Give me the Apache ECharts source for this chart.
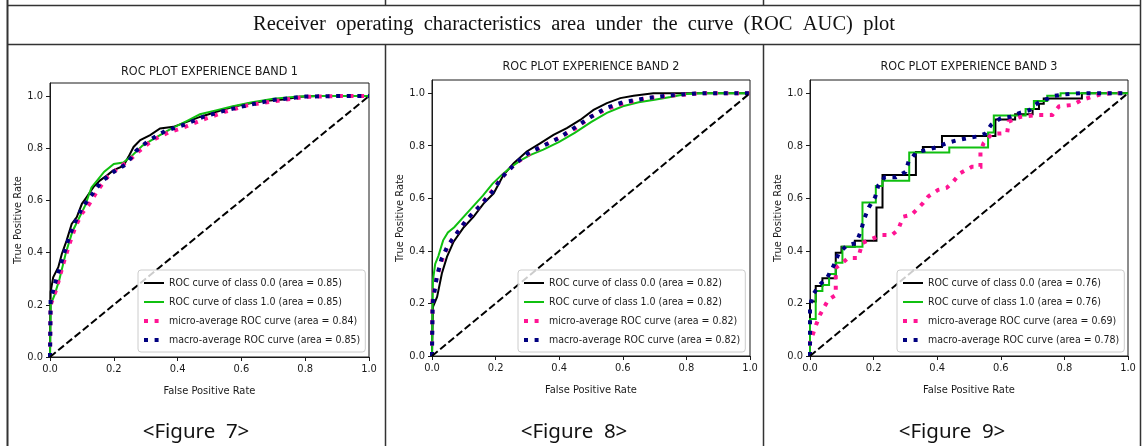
<!DOCTYPE html>
<html>
<head>
<meta charset="utf-8">
<script src="https://cdn.jsdelivr.net/npm/echarts@6/dist/echarts.min.js"></script>
<style>
html,body{margin:0;padding:0;background:#fff;}
#c{width:1142px;height:446px;}
</style>
</head>
<body>
<div id="c"></div>
<script>
// ---------------- DATA ----------------
const tableTitle = 'Receiver  operating  characteristics  area  under  the  curve  (ROC  AUC)  plot';
const panelTitles = ['ROC PLOT EXPERIENCE BAND 1', 'ROC PLOT EXPERIENCE BAND 2', 'ROC PLOT EXPERIENCE BAND 3'];
const captions = ['<Figure  7>', '<Figure  8>', '<Figure  9>'];
const xTicks = [0, 0.2, 0.4, 0.6, 0.8, 1.0];
const yTicks = [0, 0.2, 0.4, 0.6, 0.8, 1.0];
const xName = 'False Positive Rate';
const yName = 'True Positive Rate';

// areas: [class 0.0, class 1.0, micro, macro]
const areasBand1 = [0.85, 0.85, 0.84, 0.85];
const areasBand2 = [0.82, 0.82, 0.82, 0.82];
const areasBand3 = [0.76, 0.76, 0.69, 0.78];

const chance = [[0, 0], [1, 1]];

// Band 1 (FPR, TPR)
const band1Class0 = [[0,0],[0.002,0.25],[0.01,0.305],[0.026,0.344],[0.037,0.395],[0.052,0.446],[0.068,0.51],[0.084,0.536],[0.1,0.587],[0.115,0.613],[0.136,0.651],[0.157,0.677],[0.178,0.695],[0.198,0.715],[0.23,0.732],[0.246,0.767],[0.262,0.805],[0.283,0.831],[0.314,0.85],[0.345,0.876],[0.387,0.882],[0.429,0.901],[0.47,0.92],[0.522,0.94],[0.574,0.959],[0.627,0.972],[0.679,0.982],[0.731,0.987],[0.784,0.997],[0.836,1.0],[1,1]];
const band1Class1 = [[0,0],[0.002,0.2],[0.015,0.24],[0.03,0.3],[0.05,0.4],[0.07,0.48],[0.09,0.53],[0.11,0.58],[0.13,0.65],[0.15,0.68],[0.17,0.71],[0.2,0.74],[0.23,0.745],[0.26,0.775],[0.29,0.81],[0.33,0.84],[0.38,0.875],[0.43,0.905],[0.47,0.93],[0.52,0.945],[0.57,0.96],[0.63,0.975],[0.7,0.99],[0.78,0.998],[0.85,1.0],[1,1]];
const band1Micro = [[0,0],[0.002,0.2],[0.02,0.26],[0.04,0.35],[0.06,0.43],[0.08,0.5],[0.1,0.55],[0.12,0.58],[0.15,0.64],[0.18,0.69],[0.21,0.72],[0.25,0.755],[0.28,0.79],[0.32,0.83],[0.37,0.86],[0.42,0.88],[0.48,0.91],[0.55,0.94],[0.62,0.965],[0.7,0.98],[0.8,0.997],[0.9,1],[1,1]];
const band1Macro = [[0,0],[0.002,0.22],[0.02,0.3],[0.04,0.38],[0.06,0.46],[0.08,0.52],[0.1,0.57],[0.13,0.62],[0.16,0.67],[0.2,0.71],[0.24,0.74],[0.27,0.79],[0.31,0.83],[0.36,0.865],[0.42,0.89],[0.48,0.92],[0.55,0.945],[0.62,0.965],[0.7,0.985],[0.8,0.998],[0.9,1],[1,1]];

// Band 2
const band2Class0 = [[0,0],[0.003,0.187],[0.016,0.225],[0.031,0.314],[0.047,0.377],[0.068,0.435],[0.1,0.49],[0.131,0.53],[0.162,0.58],[0.194,0.619],[0.225,0.689],[0.257,0.733],[0.298,0.778],[0.34,0.809],[0.382,0.841],[0.424,0.867],[0.466,0.898],[0.508,0.936],[0.55,0.962],[0.592,0.981],[0.634,0.99],[0.696,1.0],[1,1]];
const band2Class1 = [[0,0],[0.003,0.288],[0.01,0.35],[0.02,0.38],[0.035,0.44],[0.05,0.47],[0.07,0.49],[0.1,0.53],[0.13,0.57],[0.16,0.61],[0.19,0.655],[0.22,0.69],[0.25,0.72],[0.28,0.745],[0.31,0.765],[0.35,0.785],[0.4,0.815],[0.45,0.85],[0.5,0.89],[0.55,0.925],[0.6,0.95],[0.65,0.965],[0.7,0.975],[0.75,0.985],[0.8,0.997],[0.85,1.0],[1,1]];
const band2Micro = [[0,0],[0,0.07],[0.002,0.22],[0.015,0.3],[0.03,0.36],[0.05,0.42],[0.08,0.47],[0.11,0.52],[0.15,0.57],[0.19,0.63],[0.22,0.68],[0.26,0.73],[0.3,0.765],[0.35,0.8],[0.4,0.83],[0.45,0.865],[0.5,0.91],[0.55,0.94],[0.6,0.96],[0.67,0.98],[0.75,0.99],[0.85,1],[1,1]];
const band2Macro = [[0,0],[0.002,0.2],[0.015,0.3],[0.03,0.37],[0.05,0.42],[0.08,0.47],[0.11,0.52],[0.15,0.57],[0.19,0.625],[0.22,0.68],[0.26,0.73],[0.3,0.77],[0.35,0.8],[0.4,0.83],[0.45,0.87],[0.5,0.91],[0.55,0.945],[0.6,0.965],[0.67,0.98],[0.75,0.992],[0.85,1],[1,1]];

// Band 3 (step ROC points)
const band3Class0 = [[0,0],[0,0.207],[0.018,0.207],[0.018,0.266],[0.039,0.266],[0.039,0.296],[0.081,0.296],[0.081,0.393],[0.099,0.393],[0.099,0.416],[0.141,0.416],[0.141,0.438],[0.209,0.438],[0.209,0.565],[0.228,0.565],[0.228,0.689],[0.333,0.689],[0.333,0.776],[0.355,0.776],[0.355,0.795],[0.415,0.795],[0.415,0.837],[0.583,0.837],[0.583,0.9],[0.645,0.9],[0.645,0.92],[0.7,0.92],[0.7,0.94],[0.72,0.94],[0.72,0.96],[0.735,0.96],[0.735,0.98],[0.855,0.98],[0.855,1.0],[1,1]];
const band3Class1 = [[0,0],[0,0.141],[0.018,0.141],[0.018,0.247],[0.039,0.247],[0.039,0.27],[0.06,0.27],[0.06,0.312],[0.081,0.312],[0.081,0.355],[0.102,0.355],[0.102,0.416],[0.165,0.416],[0.165,0.584],[0.207,0.584],[0.207,0.647],[0.228,0.647],[0.228,0.667],[0.312,0.667],[0.312,0.774],[0.438,0.774],[0.438,0.793],[0.56,0.793],[0.56,0.85],[0.578,0.85],[0.578,0.915],[0.678,0.915],[0.678,0.94],[0.704,0.94],[0.704,0.97],[0.746,0.97],[0.746,0.99],[0.788,0.99],[0.788,1.0],[1,1]];
const band3Micro = [[0,0],[0,0.05],[0.019,0.118],[0.031,0.156],[0.057,0.213],[0.081,0.232],[0.081,0.335],[0.102,0.354],[0.12,0.373],[0.151,0.373],[0.165,0.43],[0.178,0.437],[0.225,0.46],[0.257,0.46],[0.277,0.48],[0.293,0.53],[0.319,0.537],[0.335,0.556],[0.356,0.582],[0.372,0.607],[0.388,0.62],[0.403,0.632],[0.43,0.64],[0.451,0.664],[0.472,0.695],[0.509,0.72],[0.536,0.72],[0.536,0.778],[0.546,0.81],[0.572,0.845],[0.62,0.848],[0.625,0.892],[0.662,0.91],[0.72,0.917],[0.762,0.917],[0.783,0.95],[0.825,0.955],[0.856,0.975],[0.909,0.994],[0.95,1.0],[1,1]];
const band3Macro = [[0,0],[0,0.19],[0.01,0.235],[0.03,0.27],[0.055,0.3],[0.075,0.345],[0.09,0.39],[0.115,0.42],[0.145,0.43],[0.16,0.475],[0.17,0.52],[0.185,0.565],[0.205,0.605],[0.215,0.65],[0.235,0.68],[0.27,0.68],[0.3,0.7],[0.31,0.74],[0.335,0.775],[0.37,0.785],[0.4,0.795],[0.43,0.81],[0.46,0.82],[0.5,0.83],[0.525,0.835],[0.55,0.845],[0.57,0.88],[0.6,0.905],[0.63,0.91],[0.66,0.925],[0.69,0.935],[0.7,0.95],[0.72,0.965],[0.74,0.975],[0.77,0.99],[0.8,0.995],[0.85,1],[1,1]];

// ---------------- STYLE / LAYOUT ----------------
const SANS = "'Liberation Sans Narrow', 'DejaVu Sans Condensed', 'Liberation Sans', sans-serif";
const INK = '#1a1a1a';
const panels = [
  {grid: {left: 50, top: 83, width: 319, height: 274}, titleY: 71.5, legend: {left: 138, top: 270},
   curves: [band1Class0, band1Class1, band1Micro, band1Macro], areas: areasBand1},
  {grid: {left: 432, top: 80, width: 318, height: 276}, titleY: 67, legend: {left: 518, top: 270},
   curves: [band2Class0, band2Class1, band2Micro, band2Macro], areas: areasBand2},
  {grid: {left: 810, top: 80, width: 318, height: 276}, titleY: 67, legend: {left: 897, top: 270},
   curves: [band3Class0, band3Class1, band3Micro, band3Macro], areas: areasBand3}
];
const curveStyles = [
  {color: '#000000', width: 2, type: 'solid'},
  {color: '#10c010', width: 2, type: 'solid'},
  {color: '#ff1493', width: 4, type: [4, 6.6]},
  {color: '#000080', width: 4, type: [4, 6.6]}
];
function curveName(k, a) {
  const f = a.toFixed(2);
  if (k === 0) return 'ROC curve of class 0.0 (area = ' + f + ')';
  if (k === 1) return 'ROC curve of class 1.0 (area = ' + f + ')';
  if (k === 2) return 'micro-average ROC curve (area = ' + f + ')';
  return 'macro-average ROC curve (area = ' + f + ')';
}

const grids = [], xAxes = [], yAxes = [], series = [], legends = [];
const graphics = [];

panels.forEach((p, i) => {
  grids.push(Object.assign({show: true, borderColor: INK, borderWidth: 1, backgroundColor: 'transparent'}, p.grid));
  xAxes.push({
    type: 'value', gridIndex: i, min: 0, max: 1, interval: 0.2,
    axisLine: {show: true, onZero: false, lineStyle: {color: INK, width: 1}},
    axisTick: {show: true, inside: false, length: 4, lineStyle: {color: INK}, customValues: xTicks},
    axisLabel: {show: true, margin: 7, fontSize: 11, color: INK, fontFamily: SANS, customValues: xTicks,
      formatter: v => v.toFixed(1)},
    splitLine: {show: false},
    name: xName, nameLocation: 'middle', nameGap: 29,
    nameTextStyle: {fontSize: 11, color: INK, fontFamily: SANS}
  });
  yAxes.push({
    type: 'value', gridIndex: i, min: 0, max: 1.05, interval: 0.2,
    axisLine: {show: true, onZero: false, lineStyle: {color: INK, width: 1}},
    axisTick: {show: true, inside: false, length: 4, lineStyle: {color: INK}, customValues: yTicks},
    axisLabel: {show: true, margin: 7, fontSize: 11, color: INK, fontFamily: SANS, customValues: yTicks,
      formatter: v => v.toFixed(1)},
    splitLine: {show: false},
    name: yName, nameLocation: 'middle', nameGap: 25, nameRotate: 90,
    nameTextStyle: {fontSize: 11, color: INK, fontFamily: SANS}
  });
  const names = [];
  p.curves.forEach((d, k) => {
    const nm = curveName(k, p.areas[k]);
    names.push(nm);
    const st = curveStyles[k];
    series.push({
      type: 'line', name: nm, xAxisIndex: i, yAxisIndex: i, data: d,
      showSymbol: false, symbol: 'circle', symbolSize: 1, smooth: false, animation: false,
      itemStyle: {color: st.color},
      lineStyle: {color: st.color, width: st.width, type: st.type, cap: 'butt', join: 'miter'},
      emphasis: {disabled: true}
    });
  });
  series.push({
    type: 'line', name: 'chance' + i, xAxisIndex: i, yAxisIndex: i, data: chance,
    showSymbol: false, symbol: 'none', animation: false,
    lineStyle: {color: '#000', width: 2, type: [7.4, 3.2], cap: 'butt'},
    emphasis: {disabled: true}
  });
  legends.push({
    data: names, orient: 'vertical', left: p.legend.left, top: p.legend.top,
    padding: [6, 5, 5, 4], itemGap: 5, itemWidth: 20, itemHeight: 14,
    backgroundColor: 'rgba(255,255,255,0.8)', borderColor: '#cccccc', borderWidth: 1, borderRadius: 3,
    selectedMode: false,
    itemStyle: {opacity: 0},
    lineStyle: {width: 'inherit', type: 'inherit', cap: 'butt'},
    textStyle: {fontSize: 10.5, color: INK, fontFamily: SANS, lineHeight: 14}
  });
  const cx = p.grid.left + p.grid.width / 2;
  graphics.push({
    type: 'text', x: cx, y: p.titleY,
    style: {text: panelTitles[i], x: 0, y: 0, align: 'center', verticalAlign: 'middle',
      font: "12.5px " + SANS, fill: INK}
  });
});

// table frame
const LC = '#333333';
function hline(x1, x2, y, w) { graphics.push({type: 'line', shape: {x1, y1: y, x2, y2: y}, style: {stroke: LC, lineWidth: w || 1.5}}); }
function vline(x, y1, y2, w) { graphics.push({type: 'line', shape: {x1: x, y1, x2: x, y2}, style: {stroke: LC, lineWidth: w || 1.5}}); }
hline(7, 1141, 5.5);
hline(7, 1141, 44.5);
vline(7.5, 0, 446, 2);
vline(1140.5, 0, 446, 1.5);
vline(385.5, 0, 5);
vline(763.5, 0, 5);
vline(385.5, 44, 446);
vline(763.5, 44, 446);

graphics.push({
  type: 'text', x: 574, y: 25,
  style: {text: tableTitle, align: 'center', verticalAlign: 'middle', font: "20.5px 'Liberation Serif', 'DejaVu Serif', serif", fill: '#111'}
});
const capX = [196, 574, 952];
captions.forEach((c, i) => {
  graphics.push({
    type: 'text', x: capX[i], y: 432,
    style: {text: c, align: 'center', verticalAlign: 'middle', font: "20.5px 'Noto Sans', 'DejaVu Sans', sans-serif", fill: '#111'}
  });
});

const chart = echarts.init(document.getElementById('c'), null, {renderer: 'canvas', width: 1142, height: 446});
chart.setOption({
  backgroundColor: '#ffffff',
  animation: false,
  grid: grids,
  xAxis: xAxes,
  yAxis: yAxes,
  legend: legends,
  series: series,
  graphic: {elements: graphics}
});
</script>
</body>
</html>
